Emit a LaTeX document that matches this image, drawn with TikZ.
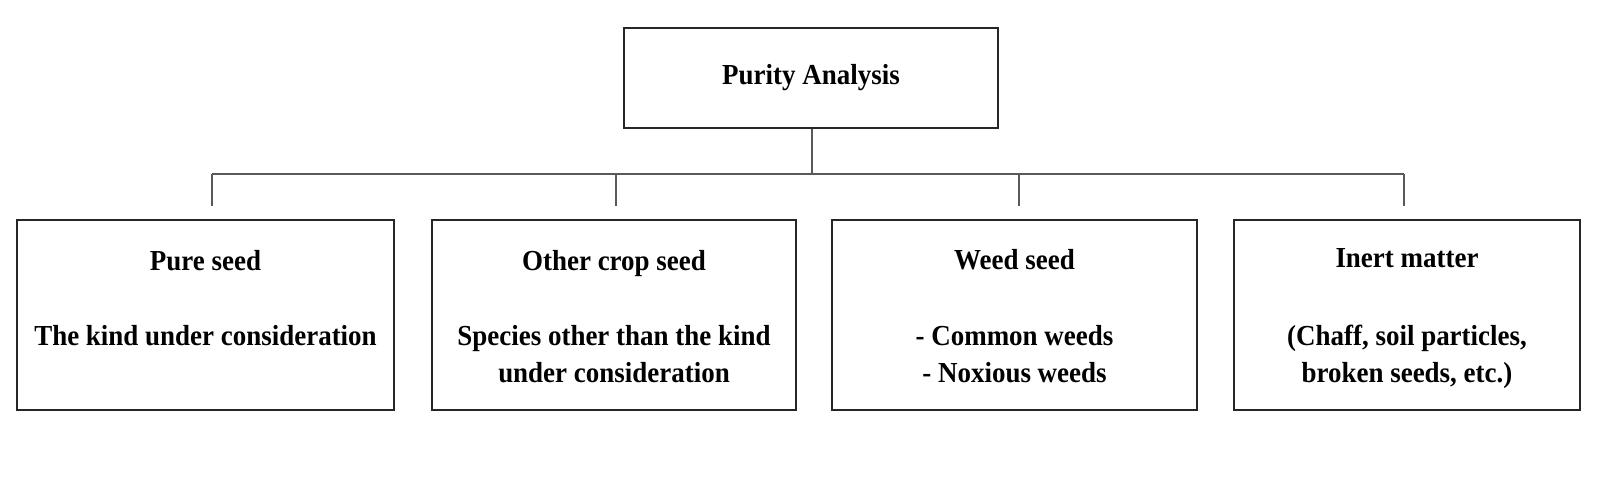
\documentclass[tikz,border=0pt]{standalone}
\usepackage{fontspec}
\setmainfont{Liberation Serif}[FakeStretch=0.93]
\begin{document}
\begin{tikzpicture}[x=1pt,y=-1pt,
  box/.style={draw=black!85, line width=1.5pt, inner sep=0pt, minimum height=190pt},
  lbl/.style={anchor=base, inner sep=0pt, font=\fontsize{29}{35}\selectfont\bfseries},
  conn/.style={draw=black!65, line width=1.3pt}]
\useasboundingbox (0,0) rectangle (1599,480);
\fill[white] (0,0) rectangle (1599,480);
% top box
\node[box, minimum width=374pt, minimum height=100pt] (top) at (811,78) {};
\node[lbl] (ttop) at (811,84) {Purity Analysis};
% bottom boxes
\node[box, minimum width=377pt] (b1) at (205.5,315) {};
\node[box, minimum width=364pt] (b2) at (614,315) {};
\node[box, minimum width=365pt] (b3) at (1014.5,315) {};
\node[box, minimum width=346pt] (b4) at (1407,315) {};
% texts
\node[lbl] (b1a) at (205.5,270) {Pure seed};
\node[lbl] (b1b) at (205.5,345) {The kind under consideration};
\node[lbl] (b2a) at (614,270) {Other crop seed};
\node[lbl] (b2b) at (614,345) {Species other than the kind};
\node[lbl] (b2c) at (614,382) {under consideration};
\node[lbl] (b3a) at (1014.5,269) {Weed seed};
\node[lbl] (b3b) at (1014.5,345) {- Common weeds};
\node[lbl] (b3c) at (1014.5,382) {- Noxious weeds};
\node[lbl] (b4a) at (1407,267) {Inert matter};
\node[lbl] (b4b) at (1407,345) {(Chaff, soil particles,};
\node[lbl] (b4c) at (1407,382) {broken seeds, etc.)};
% connectors
\coordinate (j0) at (812,174);
\coordinate (j1) at (212,174);
\coordinate (j2) at (616,174);
\coordinate (j3) at (1019,174);
\coordinate (j4) at (1404,174);
\coordinate (e1) at (212,206);
\coordinate (e2) at (616,206);
\coordinate (e3) at (1019,206);
\coordinate (e4) at (1404,206);
\draw[conn] (top.south -| j0) -- (j0);
\draw[conn] (j1) -- (j4);
\draw[conn] (j1) -- (e1);
\draw[conn] (j2) -- (e2);
\draw[conn] (j3) -- (e3);
\draw[conn] (j4) -- (e4);
\end{tikzpicture}
\end{document}
